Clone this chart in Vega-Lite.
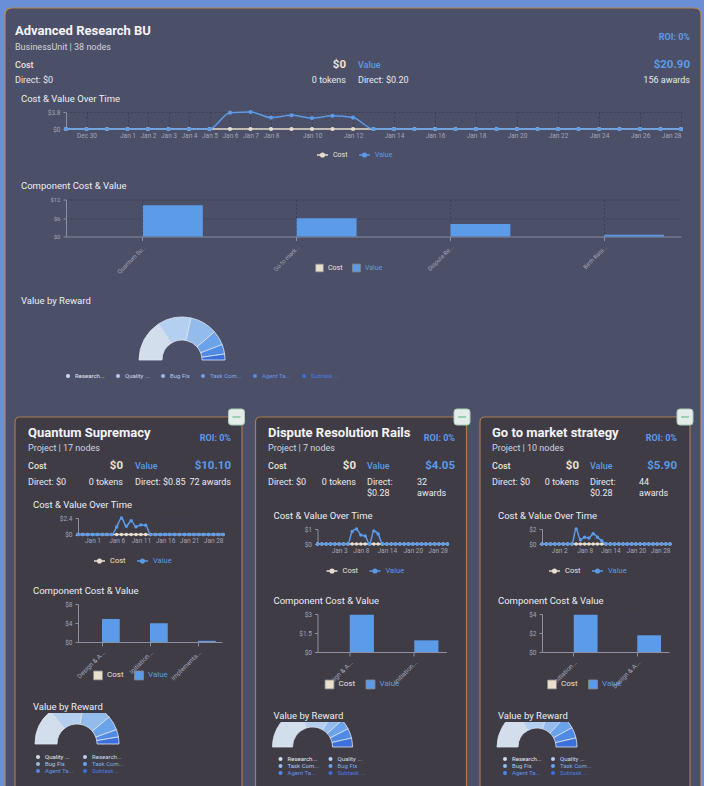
{
"$schema": "https://vega.github.io/schema/vega-lite/v6.json",
"background": "#6a8fd6",
"padding": {"left": 2, "top": 5, "right": 0, "bottom": 0},
"config": {
  "font": "Roboto",
  "view": {"stroke": null},
  "title": {"anchor": "start", "frame": "group", "fontSize": 9.5, "fontWeight": "normal", "color": "#eceef4", "offset": 6, "font": "Roboto"},
  "axis": {"labelFont": "Roboto", "labelFontSize": 6.5, "labelColor": "#a4a6b7", "domainColor": "#8d90a2", "tickColor": "#8d90a2", "gridColor": "#383a4f", "gridDash": [2, 2], "gridWidth": 0.8, "labelOverlap": false, "labelPadding": 3, "minExtent": 0},
  "legend": {"labelFont": "Roboto", "labelColor": "#e6e6ee", "labelFontSize": 7.5},
  "text": {"font": "Roboto"}
},
"datasets": {
  "headers": [
    {"unit": "BU", "role": "title", "col": 1, "line": 1, "text": "Advanced Research BU"},
    {"unit": "BU", "role": "roi", "col": 4, "line": 2, "text": "ROI: 0%"},
    {"unit": "BU", "role": "sub", "col": 1, "line": 3, "text": "BusinessUnit | 38 nodes"},
    {"unit": "BU", "role": "label", "col": 1, "line": 4, "text": "Cost", "tone": "cost"},
    {"unit": "BU", "role": "amount", "col": 2, "line": 4, "text": "$0", "tone": "cost"},
    {"unit": "BU", "role": "label", "col": 3, "line": 4, "text": "Value", "tone": "value"},
    {"unit": "BU", "role": "amount", "col": 4, "line": 4, "text": "$20.90", "tone": "value"},
    {"unit": "BU", "role": "detail", "col": 1, "line": 5, "text": "Direct: $0"},
    {"unit": "BU", "role": "detail", "col": 2, "line": 5, "text": "0 tokens"},
    {"unit": "BU", "role": "detail", "col": 3, "line": 5, "text": "Direct: $0.20"},
    {"unit": "BU", "role": "detail", "col": 4, "line": 5, "text": "156 awards"},
    {"unit": "QS", "role": "title", "col": 1, "line": 1, "text": "Quantum Supremacy"},
    {"unit": "QS", "role": "roi", "col": 4, "line": 2, "text": "ROI: 0%"},
    {"unit": "QS", "role": "sub", "col": 1, "line": 3, "text": "Project | 17 nodes"},
    {"unit": "QS", "role": "label", "col": 1, "line": 4, "text": "Cost", "tone": "cost"},
    {"unit": "QS", "role": "amount", "col": 2, "line": 4, "text": "$0", "tone": "cost"},
    {"unit": "QS", "role": "label", "col": 3, "line": 4, "text": "Value", "tone": "value"},
    {"unit": "QS", "role": "amount", "col": 4, "line": 4, "text": "$10.10", "tone": "value"},
    {"unit": "QS", "role": "detail", "col": 1, "line": 5, "text": "Direct: $0"},
    {"unit": "QS", "role": "detail", "col": 2, "line": 5, "text": "0 tokens"},
    {"unit": "QS", "role": "detail", "col": 3, "line": 5, "text": "Direct: $0.85"},
    {"unit": "QS", "role": "detail", "col": 4, "line": 5, "text": "72 awards"},
    {"unit": "DR", "role": "title", "col": 1, "line": 1, "text": "Dispute Resolution Rails"},
    {"unit": "DR", "role": "roi", "col": 4, "line": 2, "text": "ROI: 0%"},
    {"unit": "DR", "role": "sub", "col": 1, "line": 3, "text": "Project | 7 nodes"},
    {"unit": "DR", "role": "label", "col": 1, "line": 4, "text": "Cost", "tone": "cost"},
    {"unit": "DR", "role": "amount", "col": 2, "line": 4, "text": "$0", "tone": "cost"},
    {"unit": "DR", "role": "label", "col": 3, "line": 4, "text": "Value", "tone": "value"},
    {"unit": "DR", "role": "amount", "col": 4, "line": 4, "text": "$4.05", "tone": "value"},
    {"unit": "DR", "role": "detail", "col": 1, "line": 5, "text": "Direct: $0"},
    {"unit": "DR", "role": "detail", "col": 2, "line": 5, "text": "0 tokens"},
    {"unit": "DR", "role": "detail", "col": 3, "line": 5, "text": "Direct:"},
    {"unit": "DR", "role": "detail", "col": 3, "line": 6, "text": "$0.28"},
    {"unit": "DR", "role": "detail", "col": 5, "line": 5, "text": "32"},
    {"unit": "DR", "role": "detail", "col": 5, "line": 6, "text": "awards"},
    {"unit": "GM", "role": "title", "col": 1, "line": 1, "text": "Go to market strategy"},
    {"unit": "GM", "role": "roi", "col": 4, "line": 2, "text": "ROI: 0%"},
    {"unit": "GM", "role": "sub", "col": 1, "line": 3, "text": "Project | 10 nodes"},
    {"unit": "GM", "role": "label", "col": 1, "line": 4, "text": "Cost", "tone": "cost"},
    {"unit": "GM", "role": "amount", "col": 2, "line": 4, "text": "$0", "tone": "cost"},
    {"unit": "GM", "role": "label", "col": 3, "line": 4, "text": "Value", "tone": "value"},
    {"unit": "GM", "role": "amount", "col": 4, "line": 4, "text": "$5.90", "tone": "value"},
    {"unit": "GM", "role": "detail", "col": 1, "line": 5, "text": "Direct: $0"},
    {"unit": "GM", "role": "detail", "col": 2, "line": 5, "text": "0 tokens"},
    {"unit": "GM", "role": "detail", "col": 3, "line": 5, "text": "Direct:"},
    {"unit": "GM", "role": "detail", "col": 3, "line": 6, "text": "$0.28"},
    {"unit": "GM", "role": "detail", "col": 5, "line": 5, "text": "44"},
    {"unit": "GM", "role": "detail", "col": 5, "line": 6, "text": "awards"}
  ],
  "timeline": [
    {"date": "2024-12-29T00:00:00", "cost": 0, "bu": 0, "qs": 0, "dr": 0, "gm": 0},
    {"date": "2024-12-30T00:00:00", "cost": 0, "bu": 0, "qs": 0, "dr": 0, "gm": 0},
    {"date": "2024-12-31T00:00:00", "cost": 0, "bu": 0, "qs": 0, "dr": 0, "gm": 0},
    {"date": "2025-01-01T00:00:00", "cost": 0, "bu": 0, "qs": 0, "dr": 0, "gm": 0},
    {"date": "2025-01-02T00:00:00", "cost": 0, "bu": 0, "qs": 0, "dr": 0, "gm": 0},
    {"date": "2025-01-03T00:00:00", "cost": 0, "bu": 0, "qs": 0, "dr": 0, "gm": 0},
    {"date": "2025-01-04T00:00:00", "cost": 0, "bu": 0, "qs": 0, "dr": 0, "gm": 0},
    {"date": "2025-01-05T00:00:00", "cost": 0, "bu": 0, "qs": 0, "dr": 0, "gm": 0},
    {"date": "2025-01-06T00:00:00", "cost": 0, "bu": 3.65, "qs": 1.1, "dr": 0.83, "gm": 2.0},
    {"date": "2025-01-07T00:00:00", "cost": 0, "bu": 3.8, "qs": 2.4, "dr": 1.0, "gm": 0.57},
    {"date": "2025-01-08T00:00:00", "cost": 0, "bu": 2.55, "qs": 1.2, "dr": 0.6, "gm": 0.9},
    {"date": "2025-01-09T00:00:00", "cost": 0, "bu": 3.05, "qs": 2.0, "dr": 0.54, "gm": 0.8},
    {"date": "2025-01-10T00:00:00", "cost": 0, "bu": 2.45, "qs": 1.13, "dr": 0, "gm": 1.37},
    {"date": "2025-01-11T00:00:00", "cost": 0, "bu": 2.95, "qs": 1.4, "dr": 0.87, "gm": 0.9},
    {"date": "2025-01-12T00:00:00", "cost": 0, "bu": 2.55, "qs": 1.36, "dr": 0.67, "gm": 0.44},
    {"date": "2025-01-13T00:00:00", "cost": 0, "bu": 0, "qs": 0, "dr": 0, "gm": 0},
    {"date": "2025-01-14T00:00:00", "cost": 0, "bu": 0, "qs": 0, "dr": 0, "gm": 0},
    {"date": "2025-01-15T00:00:00", "cost": 0, "bu": 0, "qs": 0, "dr": 0, "gm": 0},
    {"date": "2025-01-16T00:00:00", "cost": 0, "bu": 0, "qs": 0, "dr": 0, "gm": 0},
    {"date": "2025-01-17T00:00:00", "cost": 0, "bu": 0, "qs": 0, "dr": 0, "gm": 0},
    {"date": "2025-01-18T00:00:00", "cost": 0, "bu": 0, "qs": 0, "dr": 0, "gm": 0},
    {"date": "2025-01-19T00:00:00", "cost": 0, "bu": 0, "qs": 0, "dr": 0, "gm": 0},
    {"date": "2025-01-20T00:00:00", "cost": 0, "bu": 0, "qs": 0, "dr": 0, "gm": 0},
    {"date": "2025-01-21T00:00:00", "cost": 0, "bu": 0, "qs": 0, "dr": 0, "gm": 0},
    {"date": "2025-01-22T00:00:00", "cost": 0, "bu": 0, "qs": 0, "dr": 0, "gm": 0},
    {"date": "2025-01-23T00:00:00", "cost": 0, "bu": 0, "qs": 0, "dr": 0, "gm": 0},
    {"date": "2025-01-24T00:00:00", "cost": 0, "bu": 0, "qs": 0, "dr": 0, "gm": 0},
    {"date": "2025-01-25T00:00:00", "cost": 0, "bu": 0, "qs": 0, "dr": 0, "gm": 0},
    {"date": "2025-01-26T00:00:00", "cost": 0, "bu": 0, "qs": 0, "dr": 0, "gm": 0},
    {"date": "2025-01-27T00:00:00", "cost": 0, "bu": 0, "qs": 0, "dr": 0, "gm": 0},
    {"date": "2025-01-28T00:00:00", "cost": 0, "bu": 0, "qs": 0, "dr": 0, "gm": 0}
  ],
  "components": [
    {"unit": "BU", "component": "Quantum Supremacy", "Cost": 0, "Value": 10.1},
    {"unit": "BU", "component": "Go to market strategy", "Cost": 0, "Value": 5.9},
    {"unit": "BU", "component": "Dispute Resolution Rails", "Cost": 0, "Value": 4.05},
    {"unit": "BU", "component": "Birth Rate Research", "Cost": 0, "Value": 0.6},
    {"unit": "QS", "component": "Design & Architecture", "Cost": 0, "Value": 4.85},
    {"unit": "QS", "component": "Initiation & Planning", "Cost": 0, "Value": 3.95},
    {"unit": "QS", "component": "Implementation", "Cost": 0, "Value": 0.25},
    {"unit": "DR", "component": "Design & Architecture", "Cost": 0, "Value": 2.94},
    {"unit": "DR", "component": "Initiation & Planning", "Cost": 0, "Value": 0.92},
    {"unit": "GM", "component": "Initiation & Planning", "Cost": 0, "Value": 3.93},
    {"unit": "GM", "component": "Design & Architecture", "Cost": 0, "Value": 1.76}
  ],
  "rewards": [
    {"unit": "BU", "reward": "Research Output", "value": 6.62},
    {"unit": "BU", "reward": "Quality Review", "value": 5.23},
    {"unit": "BU", "reward": "Bug Fix", "value": 4.3},
    {"unit": "BU", "reward": "Task Completion", "value": 2.32},
    {"unit": "BU", "reward": "Agent Task", "value": 1.51},
    {"unit": "BU", "reward": "Subtask Work", "value": 0.93},
    {"unit": "QS", "reward": "Quality Review", "value": 2.86},
    {"unit": "QS", "reward": "Research Output", "value": 2.69},
    {"unit": "QS", "reward": "Bug Fix", "value": 2.3},
    {"unit": "QS", "reward": "Task Completion", "value": 1.12},
    {"unit": "QS", "reward": "Agent Task", "value": 0.58},
    {"unit": "QS", "reward": "Subtask Work", "value": 0.54},
    {"unit": "DR", "reward": "Research Output", "value": 1.62},
    {"unit": "DR", "reward": "Quality Review", "value": 1.1},
    {"unit": "DR", "reward": "Task Completion", "value": 0.38},
    {"unit": "DR", "reward": "Bug Fix", "value": 0.34},
    {"unit": "DR", "reward": "Agent Task", "value": 0.32},
    {"unit": "DR", "reward": "Subtask Work", "value": 0.29},
    {"unit": "GM", "reward": "Research Output", "value": 2.0},
    {"unit": "GM", "reward": "Quality Review", "value": 1.51},
    {"unit": "GM", "reward": "Bug Fix", "value": 0.85},
    {"unit": "GM", "reward": "Task Completion", "value": 0.59},
    {"unit": "GM", "reward": "Agent Task", "value": 0.52},
    {"unit": "GM", "reward": "Subtask Work", "value": 0.43}
  ]
},
"resolve": {"scale": {"color": "independent", "xOffset": "independent"}, "legend": {"color": "independent"}},
"bounds": "flush",
"spacing": 9,
"hconcat": [
  {
  "width": 1, "height": 1,
  "layer": [
    {"data": {"values": [{"panel": "business unit"}]}, "mark": {"type": "point", "shape": "M0.065,-0.015H6.885Q6.955,-0.015 6.955,0.055V8.0H-0.005V0.055Q-0.005,-0.015 0.065,-0.015Z", "size": 40000, "filled": true, "fill": "#4c4f68", "stroke": "#b9874f", "strokeWidth": 1.2, "opacity": 1}},
    {"data": {"values": [{"panel": "project cards"}]}, "mark": {"type": "point", "shape": "M0.145,4.075H2.315Q2.365,4.075 2.365,4.125V8.0H0.095V4.125Q0.095,4.075 0.145,4.075ZM2.55,4.075H4.56Q4.61,4.075 4.61,4.125V8.0H2.50V4.125Q2.50,4.075 2.55,4.075ZM4.795,4.075H6.795Q6.845,4.075 6.845,4.125V8.0H4.745V4.125Q4.745,4.075 4.795,4.075Z", "size": 40000, "filled": true, "fill": "#3f3c46", "stroke": "#a97a4c", "strokeWidth": 1.2, "opacity": 1}},
    {"data": {"values": [{"panel": "collapse buttons"}]}, "mark": {"type": "point", "shape": "M2.26,3.995H2.36Q2.39,3.995 2.39,4.025V4.125Q2.39,4.155 2.36,4.155H2.26Q2.23,4.155 2.23,4.125V4.025Q2.23,3.995 2.26,3.995ZM4.515,3.995H4.615Q4.645,3.995 4.645,4.025V4.125Q4.645,4.155 4.615,4.155H4.515Q4.485,4.155 4.485,4.125V4.025Q4.485,3.995 4.515,3.995ZM6.745,3.995H6.845Q6.875,3.995 6.875,4.025V4.125Q6.875,4.155 6.845,4.155H6.745Q6.715,4.155 6.715,4.125V4.025Q6.715,3.995 6.745,3.995Z", "size": 40000, "filled": true, "fill": "#e3ece8", "stroke": "#a9cdb8", "strokeWidth": 1, "opacity": 1}},
    {"data": {"values": [{"panel": "collapse icons"}]}, "mark": {"type": "point", "shape": "M2.27,4.075H2.35M4.525,4.075H4.605M6.755,4.075H6.835", "size": 40000, "filled": false, "stroke": "#86c59f", "strokeWidth": 1.5, "opacity": 1}}
  ]
  },
  {
  "resolve": {"scale": {"color": "independent", "xOffset": "independent"}, "legend": {"color": "independent"}},
  "bounds": "full",
  "spacing": 6,
  "vconcat": [
    {
    "resolve": {"scale": {"color": "independent", "xOffset": "independent"}, "legend": {"color": "independent"}},
    "spacing": 20.5,
    "vconcat": [
      {
      "resolve": {"scale": {"color": "independent", "xOffset": "independent"}, "legend": {"color": "independent"}},
      "spacing": 8,
      "vconcat": [
        {
        "width": 675, "height": 70,
        "data": {"name": "headers"},
        "transform": [{"filter": "datum.unit == 'BU'"}],
        "encoding": {
          "x": {"field": "col", "type": "quantitative", "scale": {"domain": [1, 2, 3, 4, 5], "range": [0, 331, 343, 675, 630], "nice": false, "zero": false}, "axis": null},
          "y": {"field": "line", "type": "quantitative", "scale": {"domain": [1, 2, 3, 4, 5, 6], "range": [22, 28, 38, 56, 71, 82], "nice": false, "zero": false}, "axis": null},
          "text": {"field": "text", "type": "nominal"}
        },
        "layer": [
          {"transform": [{"filter": "datum.role == 'title'"}], "mark": {"type": "text", "align": "left", "baseline": "middle", "fontSize": 13, "fontWeight": "bold", "color": "#f3f3f7"}},
          {"transform": [{"filter": "datum.role == 'sub'"}], "mark": {"type": "text", "align": "left", "baseline": "middle", "fontSize": 9, "color": "#d3d5df"}},
          {"transform": [{"filter": "datum.role == 'roi'"}], "mark": {"type": "text", "align": "right", "baseline": "middle", "fontSize": 9, "fontWeight": "bold", "color": "#5b9be8"}},
          {"transform": [{"filter": "datum.role == 'label'"}], "mark": {"type": "text", "align": "left", "baseline": "middle", "fontSize": 9, "fontWeight": 500}, "encoding": {"color": {"field": "tone", "type": "nominal", "scale": {"domain": ["cost", "value"], "range": ["#ece3d4", "#5b9be8"]}, "legend": null}}},
          {"transform": [{"filter": "datum.role == 'amount'"}], "mark": {"type": "text", "align": "right", "baseline": "middle", "fontSize": 11.5, "fontWeight": "bold"}, "encoding": {"color": {"field": "tone", "type": "nominal", "scale": {"domain": ["cost", "value"], "range": ["#ece3d4", "#5b9be8"]}, "legend": null}}},
          {"transform": [{"filter": "datum.role == 'detail' && datum.col % 2 == 1"}], "mark": {"type": "text", "align": "left", "baseline": "middle", "fontSize": 9, "color": "#e9e9ef"}},
          {"transform": [{"filter": "datum.role == 'detail' && datum.col % 2 == 0"}], "mark": {"type": "text", "align": "right", "baseline": "middle", "fontSize": 9, "color": "#e9e9ef"}}
        ]
        },
        {
        "width": 666, "height": 17,
        "title": {"text": "Cost & Value Over Time", "dx": 6},
        "data": {"name": "timeline"},
        "encoding": {
          "x": {"field": "date", "type": "temporal", "scale": {"nice": false, "padding": 0, "range": [51, 666]}, "axis": {"title": null, "format": "%b %-d", "ticks": false, "domain": false, "grid": true, "values": [{"year": 2024, "month": 12, "date": 30}, {"year": 2025, "month": 1, "date": 1}, {"year": 2025, "month": 1, "date": 2}, {"year": 2025, "month": 1, "date": 3}, {"year": 2025, "month": 1, "date": 4}, {"year": 2025, "month": 1, "date": 5}, {"year": 2025, "month": 1, "date": 6}, {"year": 2025, "month": 1, "date": 7}, {"year": 2025, "month": 1, "date": 8}, {"year": 2025, "month": 1, "date": 10}, {"year": 2025, "month": 1, "date": 12}, {"year": 2025, "month": 1, "date": 14}, {"year": 2025, "month": 1, "date": 16}, {"year": 2025, "month": 1, "date": 18}, {"year": 2025, "month": 1, "date": 20}, {"year": 2025, "month": 1, "date": 22}, {"year": 2025, "month": 1, "date": 24}, {"year": 2025, "month": 1, "date": 26}, {"year": 2025, "month": 1, "date": 28}]}}
        },
        "layer": [
          {"mark": {"type": "line", "interpolate": "monotone", "strokeWidth": 1.5, "point": {"filled": true, "size": 18}},
           "encoding": {
             "y": {"field": "cost", "type": "quantitative", "scale": {"domain": [0, 3.8], "nice": false}, "axis": {"title": null, "values": [0, 3.8], "labelExpr": "'$' + datum.value", "offset": -51, "tickSize": 3, "grid": true}},
             "color": {"datum": "Cost", "type": "nominal", "scale": {"domain": ["Cost", "Value"], "range": ["#e9dfcf", "#5b9be8"]}, "legend": {"title": null, "orient": "none", "legendX": 301, "legendY": 36, "direction": "horizontal", "symbolType": "M-1,0H-0.35M0.35,0H1M0.35,0A0.35,0.35,0,1,1,-0.35,0A0.35,0.35,0,1,1,0.35,0", "symbolSize": 120, "symbolStrokeWidth": 1.3, "labelFontSize": 7, "columnPadding": 8, "labelColor": {"expr": "datum.value == 'Value' ? '#5b9be8' : '#ece3d4'"}}}
           }},
          {"mark": {"type": "line", "interpolate": "monotone", "strokeWidth": 1.5, "point": {"filled": true, "size": 18}},
           "encoding": {
             "y": {"field": "bu", "type": "quantitative", "axis": {"title": null, "values": [0, 3.8], "labelExpr": "'$' + datum.value", "offset": -51, "tickSize": 3, "grid": true}},
             "color": {"datum": "Value", "type": "nominal"}
           }}
        ]
        }
      ]
      },
      {
      "width": 666, "height": 37,
      "title": {"text": "Component Cost & Value", "dx": 6},
      "data": {"name": "components"},
      "transform": [{"filter": "datum.unit == 'BU'"}, {"fold": ["Cost", "Value"], "as": ["series", "amount"]}],
      "mark": {"type": "bar"},
      "encoding": {
        "x": {"field": "component", "type": "nominal", "sort": null, "scale": {"range": [51, 666], "paddingInner": 0.22, "paddingOuter": 0.11}, "axis": {"title": null, "labelAngle": -45, "labelExpr": "length(datum.label) > 10 ? slice(datum.label, 0, 10) + '...' : datum.label", "tickSize": 4, "grid": true, "labelFontSize": 6}},
        "xOffset": {"field": "series", "type": "nominal", "sort": ["Cost", "Value"]},
        "y": {"field": "amount", "type": "quantitative", "scale": {"domain": [0, 12], "nice": false}, "axis": {"title": null, "values": [0, 6, 12], "labelExpr": "'$' + datum.value", "offset": -51, "tickSize": 3, "grid": true, "labelFontSize": 6}},
        "color": {"field": "series", "type": "nominal", "scale": {"domain": ["Cost", "Value"], "range": ["#e9dfcf", "#5b9be8"]}, "legend": {"title": null, "orient": "none", "legendX": 300, "legendY": 64, "direction": "horizontal", "symbolType": "square", "symbolSize": 60, "symbolStrokeColor": "#8a8a8a", "symbolStrokeWidth": 0.8, "labelFontSize": 7, "columnPadding": 8, "labelColor": {"expr": "datum.value == 'Value' ? '#5b9be8' : '#ece3d4'"}}}
      }
      },
      {
      "width": 334, "height": 90,
      "title": {"text": "Value by Reward", "dx": 6, "offset": 10},
      "data": {"name": "rewards"},
      "transform": [{"filter": "datum.unit == 'BU'"}],
      "mark": {"type": "arc", "outerRadius": 43, "innerRadius": 20, "stroke": "#dfe6f2", "strokeWidth": 0.8},
      "encoding": {
        "theta": {"field": "value", "type": "quantitative", "stack": true, "scale": {"range": [-1.5708, 1.5708]}},
        "order": {"field": "value", "sort": "descending"},
        "color": {"field": "reward", "type": "nominal", "scale": {"domain": ["Research Output", "Quality Review", "Bug Fix", "Task Completion", "Agent Task", "Subtask Work"], "range": ["#d3deec", "#b5cff0", "#93bcec", "#6aa3ea", "#4f8be5", "#3b6fdc"]}, "legend": {"title": null, "orient": "none", "legendX": 50, "legendY": 58, "direction": "horizontal", "columns": 6, "symbolType": "circle", "symbolSize": 16, "symbolStrokeWidth": 0, "labelFontSize": 6, "columnPadding": 10, "labelExpr": "length(datum.label) > 8 ? slice(datum.label, 0, 8) + '...' : datum.label", "labelColor": {"expr": "['#e4e9f2','#cdddf2','#a9c8f0','#7aaeee','#5d94e8','#4a7be0'][datum.index]"}}}
      }
      }
    ]
    },
    {
    "resolve": {"scale": {"color": "independent", "xOffset": "independent"}, "legend": {"color": "independent"}},
    "spacing": 13.5,
    "hconcat": [
      {
      "resolve": {"scale": {"color": "independent", "xOffset": "independent"}, "legend": {"color": "independent"}},
      "spacing": 8,
      "vconcat": [
        {
        "width": 227, "height": 80,
        "data": {"name": "headers"},
        "transform": [{"filter": "datum.unit == 'QS'"}],
        "encoding": {
          "x": {"field": "col", "type": "quantitative", "scale": {"domain": [1, 2, 3, 4, 5], "range": [13, 108, 120, 216, 176], "nice": false, "zero": false}, "axis": null},
          "y": {"field": "line", "type": "quantitative", "scale": {"domain": [1, 2, 3, 4, 5, 6], "range": [22, 27, 37, 55, 71, 82], "nice": false, "zero": false}, "axis": null},
          "text": {"field": "text", "type": "nominal"}
        },
        "layer": [
          {"transform": [{"filter": "datum.role == 'title'"}], "mark": {"type": "text", "align": "left", "baseline": "middle", "fontSize": 13, "fontWeight": "bold", "color": "#f3f3f7"}},
          {"transform": [{"filter": "datum.role == 'sub'"}], "mark": {"type": "text", "align": "left", "baseline": "middle", "fontSize": 9, "color": "#d3d5df"}},
          {"transform": [{"filter": "datum.role == 'roi'"}], "mark": {"type": "text", "align": "right", "baseline": "middle", "fontSize": 9, "fontWeight": "bold", "color": "#5b9be8"}},
          {"transform": [{"filter": "datum.role == 'label'"}], "mark": {"type": "text", "align": "left", "baseline": "middle", "fontSize": 9, "fontWeight": 500}, "encoding": {"color": {"field": "tone", "type": "nominal", "scale": {"domain": ["cost", "value"], "range": ["#ece3d4", "#5b9be8"]}, "legend": null}}},
          {"transform": [{"filter": "datum.role == 'amount'"}], "mark": {"type": "text", "align": "right", "baseline": "middle", "fontSize": 11.5, "fontWeight": "bold"}, "encoding": {"color": {"field": "tone", "type": "nominal", "scale": {"domain": ["cost", "value"], "range": ["#ece3d4", "#5b9be8"]}, "legend": null}}},
          {"transform": [{"filter": "datum.role == 'detail' && datum.col % 2 == 1"}], "mark": {"type": "text", "align": "left", "baseline": "middle", "fontSize": 9, "color": "#e9e9ef"}},
          {"transform": [{"filter": "datum.role == 'detail' && datum.col % 2 == 0"}], "mark": {"type": "text", "align": "right", "baseline": "middle", "fontSize": 9, "color": "#e9e9ef"}}
        ]
        },
        {
        "resolve": {"scale": {"color": "independent", "xOffset": "independent"}, "legend": {"color": "independent"}},
        "spacing": 19,
        "vconcat": [
          {
          "width": 208, "height": 16.5,
          "title": {"text": "Cost & Value Over Time", "dx": 18},
          "data": {"name": "timeline"},
          "encoding": {
            "x": {"field": "date", "type": "temporal", "scale": {"nice": false, "padding": 0, "range": [63, 208]}, "axis": {"title": null, "format": "%b %-d", "ticks": false, "domain": false, "grid": true, "values": [{"year": 2025, "month": 1, "date": 1}, {"year": 2025, "month": 1, "date": 6}, {"year": 2025, "month": 1, "date": 11}, {"year": 2025, "month": 1, "date": 16}, {"year": 2025, "month": 1, "date": 21}, {"year": 2025, "month": 1, "date": 28}]}}
          },
          "layer": [
            {"mark": {"type": "line", "interpolate": "monotone", "strokeWidth": 1.5, "point": {"filled": true, "size": 12}},
             "encoding": {
               "y": {"field": "cost", "type": "quantitative", "scale": {"domain": [0, 2.4], "nice": false}, "axis": {"title": null, "values": [0, 2.4], "labelExpr": "'$' + datum.value", "offset": -63, "tickSize": 3, "grid": true}},
               "color": {"datum": "Cost", "type": "nominal", "scale": {"domain": ["Cost", "Value"], "range": ["#e9dfcf", "#5b9be8"]}, "legend": {"title": null, "orient": "none", "legendX": 78, "legendY": 36, "direction": "horizontal", "symbolType": "M-1,0H-0.35M0.35,0H1M0.35,0A0.35,0.35,0,1,1,-0.35,0A0.35,0.35,0,1,1,0.35,0", "symbolSize": 120, "symbolStrokeWidth": 1.3, "labelFontSize": 7.5, "columnPadding": 8, "labelColor": {"expr": "datum.value == 'Value' ? '#5b9be8' : '#ece3d4'"}}}
             }},
            {"mark": {"type": "line", "interpolate": "monotone", "strokeWidth": 1.5, "point": {"filled": true, "size": 12}},
             "encoding": {
               "y": {"field": "qs", "type": "quantitative", "axis": {"title": null, "values": [0, 2.4], "labelExpr": "'$' + datum.value", "offset": -63, "tickSize": 3, "grid": true}},
               "color": {"datum": "Value", "type": "nominal"}
             }}
          ]
          },
          {
          "width": 207, "height": 38,
          "title": {"text": "Component Cost & Value", "dx": 18},
          "data": {"name": "components"},
          "transform": [{"filter": "datum.unit == 'QS'"}, {"fold": ["Cost", "Value"], "as": ["series", "amount"]}],
          "mark": {"type": "bar"},
          "encoding": {
            "x": {"field": "component", "type": "nominal", "sort": null, "scale": {"range": [63, 207], "paddingInner": 0.26, "paddingOuter": 0.13}, "axis": {"title": null, "labelAngle": -45, "labelExpr": "length(datum.label) > 10 ? slice(datum.label, 0, 10) + '...' : datum.label", "tickSize": 4, "grid": true, "labelFontSize": 6.5}},
            "xOffset": {"field": "series", "type": "nominal", "sort": ["Cost", "Value"]},
            "y": {"field": "amount", "type": "quantitative", "scale": {"domain": [0, 8], "nice": false}, "axis": {"title": null, "values": [0, 4, 8], "labelExpr": "'$' + datum.value", "offset": -63, "tickSize": 3, "grid": true}},
            "color": {"field": "series", "type": "nominal", "scale": {"domain": ["Cost", "Value"], "range": ["#e9dfcf", "#5b9be8"]}, "legend": {"title": null, "orient": "none", "legendX": 78, "legendY": 66, "direction": "horizontal", "symbolType": "square", "symbolSize": 80, "symbolStrokeColor": "#8a8a8a", "symbolStrokeWidth": 0.8, "labelFontSize": 8, "columnPadding": 8, "labelColor": {"expr": "datum.value == 'Value' ? '#5b9be8' : '#ece3d4'"}}}
          }
          },
          {
          "width": 124, "height": 62,
          "title": {"text": "Value by Reward", "dx": 18, "offset": 2},
          "data": {"name": "rewards"},
          "transform": [{"filter": "datum.unit == 'QS'"}],
          "mark": {"type": "arc", "outerRadius": 42, "innerRadius": 20, "stroke": "#dfe6f2", "strokeWidth": 0.8, "clip": true},
          "encoding": {
            "theta": {"field": "value", "type": "quantitative", "stack": true, "scale": {"range": [-1.5708, 1.5708]}},
            "order": {"field": "value", "sort": "descending"},
            "color": {"field": "reward", "type": "nominal", "scale": {"domain": ["Quality Review", "Research Output", "Bug Fix", "Task Completion", "Agent Task", "Subtask Work"], "range": ["#d3deec", "#b5cff0", "#93bcec", "#6aa3ea", "#4f8be5", "#3b6fdc"]}, "legend": {"title": null, "orient": "none", "legendX": 20, "legendY": 41, "direction": "horizontal", "columns": 2, "symbolType": "circle", "symbolSize": 16, "symbolStrokeWidth": 0, "labelFontSize": 6, "columnPadding": 8, "rowPadding": 1, "labelExpr": "length(datum.label) > 8 ? slice(datum.label, 0, 8) + '...' : datum.label", "labelColor": {"expr": "['#e4e9f2','#cdddf2','#a9c8f0','#7aaeee','#5d94e8','#4a7be0'][datum.index]"}}}
          }
          }
        ]
        }
      ]
      },
      {
      "resolve": {"scale": {"color": "independent", "xOffset": "independent"}, "legend": {"color": "independent"}},
      "spacing": 9,
      "vconcat": [
        {
        "width": 211, "height": 90,
        "data": {"name": "headers"},
        "transform": [{"filter": "datum.unit == 'DR'"}],
        "encoding": {
          "x": {"field": "col", "type": "quantitative", "scale": {"domain": [1, 2, 3, 4, 5], "range": [12.5, 100.5, 111.5, 199.5, 161.5], "nice": false, "zero": false}, "axis": null},
          "y": {"field": "line", "type": "quantitative", "scale": {"domain": [1, 2, 3, 4, 5, 6], "range": [22, 27, 37, 55, 71, 82], "nice": false, "zero": false}, "axis": null},
          "text": {"field": "text", "type": "nominal"}
        },
        "layer": [
          {"transform": [{"filter": "datum.role == 'title'"}], "mark": {"type": "text", "align": "left", "baseline": "middle", "fontSize": 13, "fontWeight": "bold", "color": "#f3f3f7"}},
          {"transform": [{"filter": "datum.role == 'sub'"}], "mark": {"type": "text", "align": "left", "baseline": "middle", "fontSize": 9, "color": "#d3d5df"}},
          {"transform": [{"filter": "datum.role == 'roi'"}], "mark": {"type": "text", "align": "right", "baseline": "middle", "fontSize": 9, "fontWeight": "bold", "color": "#5b9be8"}},
          {"transform": [{"filter": "datum.role == 'label'"}], "mark": {"type": "text", "align": "left", "baseline": "middle", "fontSize": 9, "fontWeight": 500}, "encoding": {"color": {"field": "tone", "type": "nominal", "scale": {"domain": ["cost", "value"], "range": ["#ece3d4", "#5b9be8"]}, "legend": null}}},
          {"transform": [{"filter": "datum.role == 'amount'"}], "mark": {"type": "text", "align": "right", "baseline": "middle", "fontSize": 11.5, "fontWeight": "bold"}, "encoding": {"color": {"field": "tone", "type": "nominal", "scale": {"domain": ["cost", "value"], "range": ["#ece3d4", "#5b9be8"]}, "legend": null}}},
          {"transform": [{"filter": "datum.role == 'detail' && datum.col % 2 == 1"}], "mark": {"type": "text", "align": "left", "baseline": "middle", "fontSize": 9, "color": "#e9e9ef"}},
          {"transform": [{"filter": "datum.role == 'detail' && datum.col % 2 == 0"}], "mark": {"type": "text", "align": "right", "baseline": "middle", "fontSize": 9, "color": "#e9e9ef"}}
        ]
        },
        {
        "resolve": {"scale": {"color": "independent", "xOffset": "independent"}, "legend": {"color": "independent"}},
        "spacing": 19,
        "vconcat": [
          {
          "width": 192, "height": 15,
          "title": {"text": "Cost & Value Over Time", "dx": 18},
          "data": {"name": "timeline"},
          "encoding": {
            "x": {"field": "date", "type": "temporal", "scale": {"nice": false, "padding": 0, "range": [62, 192]}, "axis": {"title": null, "format": "%b %-d", "ticks": false, "domain": false, "grid": true, "values": [{"year": 2025, "month": 1, "date": 3}, {"year": 2025, "month": 1, "date": 8}, {"year": 2025, "month": 1, "date": 14}, {"year": 2025, "month": 1, "date": 20}, {"year": 2025, "month": 1, "date": 28}]}}
          },
          "layer": [
            {"mark": {"type": "line", "interpolate": "monotone", "strokeWidth": 1.5, "point": {"filled": true, "size": 12}},
             "encoding": {
               "y": {"field": "cost", "type": "quantitative", "scale": {"domain": [0, 1], "nice": false}, "axis": {"title": null, "values": [0, 1], "labelExpr": "'$' + datum.value", "offset": -62, "tickSize": 3, "grid": true}},
               "color": {"datum": "Cost", "type": "nominal", "scale": {"domain": ["Cost", "Value"], "range": ["#e9dfcf", "#5b9be8"]}, "legend": {"title": null, "orient": "none", "legendX": 70, "legendY": 35, "direction": "horizontal", "symbolType": "M-1,0H-0.35M0.35,0H1M0.35,0A0.35,0.35,0,1,1,-0.35,0A0.35,0.35,0,1,1,0.35,0", "symbolSize": 120, "symbolStrokeWidth": 1.3, "labelFontSize": 7.5, "columnPadding": 8, "labelColor": {"expr": "datum.value == 'Value' ? '#5b9be8' : '#ece3d4'"}}}
             }},
            {"mark": {"type": "line", "interpolate": "monotone", "strokeWidth": 1.5, "point": {"filled": true, "size": 12}},
             "encoding": {
               "y": {"field": "dr", "type": "quantitative", "axis": {"title": null, "values": [0, 1], "labelExpr": "'$' + datum.value", "offset": -62, "tickSize": 3, "grid": true}},
               "color": {"datum": "Value", "type": "nominal"}
             }}
          ]
          },
          {
          "width": 191, "height": 38,
          "title": {"text": "Component Cost & Value", "dx": 18},
          "data": {"name": "components"},
          "transform": [{"filter": "datum.unit == 'DR'"}, {"fold": ["Cost", "Value"], "as": ["series", "amount"]}],
          "mark": {"type": "bar"},
          "encoding": {
            "x": {"field": "component", "type": "nominal", "sort": null, "scale": {"range": [62, 191], "paddingInner": 0.25, "paddingOuter": 0.125}, "axis": {"title": null, "labelAngle": -45, "labelExpr": "length(datum.label) > 10 ? slice(datum.label, 0, 10) + '...' : datum.label", "tickSize": 4, "grid": true, "labelFontSize": 6.5}},
            "xOffset": {"field": "series", "type": "nominal", "sort": ["Cost", "Value"]},
            "y": {"field": "amount", "type": "quantitative", "scale": {"domain": [0, 3], "nice": false}, "axis": {"title": null, "values": [0, 1.5, 3], "labelExpr": "'$' + datum.value", "offset": -62, "tickSize": 3, "grid": true}},
            "color": {"field": "series", "type": "nominal", "scale": {"domain": ["Cost", "Value"], "range": ["#e9dfcf", "#5b9be8"]}, "legend": {"title": null, "orient": "none", "legendX": 69, "legendY": 65, "direction": "horizontal", "symbolType": "square", "symbolSize": 80, "symbolStrokeColor": "#8a8a8a", "symbolStrokeWidth": 0.8, "labelFontSize": 8, "columnPadding": 8, "labelColor": {"expr": "datum.value == 'Value' ? '#5b9be8' : '#ece3d4'"}}}
          }
          },
          {
          "width": 114, "height": 50,
          "title": {"text": "Value by Reward", "dx": 18, "offset": 2},
          "data": {"name": "rewards"},
          "transform": [{"filter": "datum.unit == 'DR'"}],
          "mark": {"type": "arc", "outerRadius": 40, "innerRadius": 20, "stroke": "#dfe6f2", "strokeWidth": 0.8, "clip": true},
          "encoding": {
            "theta": {"field": "value", "type": "quantitative", "stack": true, "scale": {"range": [-1.5708, 1.5708]}},
            "order": {"field": "value", "sort": "descending"},
            "color": {"field": "reward", "type": "nominal", "scale": {"domain": ["Research Output", "Quality Review", "Task Completion", "Bug Fix", "Agent Task", "Subtask Work"], "range": ["#d3deec", "#b5cff0", "#93bcec", "#6aa3ea", "#4f8be5", "#3b6fdc"]}, "legend": {"title": null, "orient": "none", "legendX": 22, "legendY": 34, "direction": "horizontal", "columns": 2, "symbolType": "circle", "symbolSize": 16, "symbolStrokeWidth": 0, "labelFontSize": 6, "columnPadding": 8, "rowPadding": 1, "labelExpr": "length(datum.label) > 8 ? slice(datum.label, 0, 8) + '...' : datum.label", "labelColor": {"expr": "['#e4e9f2','#cdddf2','#a9c8f0','#7aaeee','#5d94e8','#4a7be0'][datum.index]"}}}
          }
          }
        ]
        }
      ]
      },
      {
      "resolve": {"scale": {"color": "independent", "xOffset": "independent"}, "legend": {"color": "independent"}},
      "spacing": 9,
      "vconcat": [
        {
        "width": 210, "height": 90,
        "data": {"name": "headers"},
        "transform": [{"filter": "datum.unit == 'GM'"}],
        "encoding": {
          "x": {"field": "col", "type": "quantitative", "scale": {"domain": [1, 2, 3, 4, 5], "range": [12, 99, 110, 197, 159], "nice": false, "zero": false}, "axis": null},
          "y": {"field": "line", "type": "quantitative", "scale": {"domain": [1, 2, 3, 4, 5, 6], "range": [22, 27, 37, 55, 71, 82], "nice": false, "zero": false}, "axis": null},
          "text": {"field": "text", "type": "nominal"}
        },
        "layer": [
          {"transform": [{"filter": "datum.role == 'title'"}], "mark": {"type": "text", "align": "left", "baseline": "middle", "fontSize": 13, "fontWeight": "bold", "color": "#f3f3f7"}},
          {"transform": [{"filter": "datum.role == 'sub'"}], "mark": {"type": "text", "align": "left", "baseline": "middle", "fontSize": 9, "color": "#d3d5df"}},
          {"transform": [{"filter": "datum.role == 'roi'"}], "mark": {"type": "text", "align": "right", "baseline": "middle", "fontSize": 9, "fontWeight": "bold", "color": "#5b9be8"}},
          {"transform": [{"filter": "datum.role == 'label'"}], "mark": {"type": "text", "align": "left", "baseline": "middle", "fontSize": 9, "fontWeight": 500}, "encoding": {"color": {"field": "tone", "type": "nominal", "scale": {"domain": ["cost", "value"], "range": ["#ece3d4", "#5b9be8"]}, "legend": null}}},
          {"transform": [{"filter": "datum.role == 'amount'"}], "mark": {"type": "text", "align": "right", "baseline": "middle", "fontSize": 11.5, "fontWeight": "bold"}, "encoding": {"color": {"field": "tone", "type": "nominal", "scale": {"domain": ["cost", "value"], "range": ["#ece3d4", "#5b9be8"]}, "legend": null}}},
          {"transform": [{"filter": "datum.role == 'detail' && datum.col % 2 == 1"}], "mark": {"type": "text", "align": "left", "baseline": "middle", "fontSize": 9, "color": "#e9e9ef"}},
          {"transform": [{"filter": "datum.role == 'detail' && datum.col % 2 == 0"}], "mark": {"type": "text", "align": "right", "baseline": "middle", "fontSize": 9, "color": "#e9e9ef"}}
        ]
        },
        {
        "resolve": {"scale": {"color": "independent", "xOffset": "independent"}, "legend": {"color": "independent"}},
        "spacing": 19,
        "vconcat": [
          {
          "width": 190, "height": 15,
          "title": {"text": "Cost & Value Over Time", "dx": 18},
          "data": {"name": "timeline"},
          "encoding": {
            "x": {"field": "date", "type": "temporal", "scale": {"nice": false, "padding": 0, "range": [62, 190]}, "axis": {"title": null, "format": "%b %-d", "ticks": false, "domain": false, "grid": true, "values": [{"year": 2025, "month": 1, "date": 2}, {"year": 2025, "month": 1, "date": 8}, {"year": 2025, "month": 1, "date": 14}, {"year": 2025, "month": 1, "date": 20}, {"year": 2025, "month": 1, "date": 28}]}}
          },
          "layer": [
            {"mark": {"type": "line", "interpolate": "monotone", "strokeWidth": 1.5, "point": {"filled": true, "size": 12}},
             "encoding": {
               "y": {"field": "cost", "type": "quantitative", "scale": {"domain": [0, 2], "nice": false}, "axis": {"title": null, "values": [0, 2], "labelExpr": "'$' + datum.value", "offset": -62, "tickSize": 3, "grid": true}},
               "color": {"datum": "Cost", "type": "nominal", "scale": {"domain": ["Cost", "Value"], "range": ["#e9dfcf", "#5b9be8"]}, "legend": {"title": null, "orient": "none", "legendX": 68, "legendY": 35, "direction": "horizontal", "symbolType": "M-1,0H-0.35M0.35,0H1M0.35,0A0.35,0.35,0,1,1,-0.35,0A0.35,0.35,0,1,1,0.35,0", "symbolSize": 120, "symbolStrokeWidth": 1.3, "labelFontSize": 7.5, "columnPadding": 8, "labelColor": {"expr": "datum.value == 'Value' ? '#5b9be8' : '#ece3d4'"}}}
             }},
            {"mark": {"type": "line", "interpolate": "monotone", "strokeWidth": 1.5, "point": {"filled": true, "size": 12}},
             "encoding": {
               "y": {"field": "gm", "type": "quantitative", "axis": {"title": null, "values": [0, 2], "labelExpr": "'$' + datum.value", "offset": -62, "tickSize": 3, "grid": true}},
               "color": {"datum": "Value", "type": "nominal"}
             }}
          ]
          },
          {
          "width": 189, "height": 38,
          "title": {"text": "Component Cost & Value", "dx": 18},
          "data": {"name": "components"},
          "transform": [{"filter": "datum.unit == 'GM'"}, {"fold": ["Cost", "Value"], "as": ["series", "amount"]}],
          "mark": {"type": "bar"},
          "encoding": {
            "x": {"field": "component", "type": "nominal", "sort": null, "scale": {"range": [62, 189], "paddingInner": 0.25, "paddingOuter": 0.125}, "axis": {"title": null, "labelAngle": -45, "labelExpr": "length(datum.label) > 10 ? slice(datum.label, 0, 10) + '...' : datum.label", "tickSize": 4, "grid": true, "labelFontSize": 6.5}},
            "xOffset": {"field": "series", "type": "nominal", "sort": ["Cost", "Value"]},
            "y": {"field": "amount", "type": "quantitative", "scale": {"domain": [0, 4], "nice": false}, "axis": {"title": null, "values": [0, 2, 4], "labelExpr": "'$' + datum.value", "offset": -62, "tickSize": 3, "grid": true}},
            "color": {"field": "series", "type": "nominal", "scale": {"domain": ["Cost", "Value"], "range": ["#e9dfcf", "#5b9be8"]}, "legend": {"title": null, "orient": "none", "legendX": 67, "legendY": 65, "direction": "horizontal", "symbolType": "square", "symbolSize": 80, "symbolStrokeColor": "#8a8a8a", "symbolStrokeWidth": 0.8, "labelFontSize": 8, "columnPadding": 8, "labelColor": {"expr": "datum.value == 'Value' ? '#5b9be8' : '#ece3d4'"}}}
          }
          },
          {
          "width": 114, "height": 50,
          "title": {"text": "Value by Reward", "dx": 18, "offset": 2},
          "data": {"name": "rewards"},
          "transform": [{"filter": "datum.unit == 'GM'"}],
          "mark": {"type": "arc", "outerRadius": 40, "innerRadius": 19, "stroke": "#dfe6f2", "strokeWidth": 0.8, "clip": true},
          "encoding": {
            "theta": {"field": "value", "type": "quantitative", "stack": true, "scale": {"range": [-1.5708, 1.5708]}},
            "order": {"field": "value", "sort": "descending"},
            "color": {"field": "reward", "type": "nominal", "scale": {"domain": ["Research Output", "Quality Review", "Bug Fix", "Task Completion", "Agent Task", "Subtask Work"], "range": ["#d3deec", "#b5cff0", "#93bcec", "#6aa3ea", "#4f8be5", "#3b6fdc"]}, "legend": {"title": null, "orient": "none", "legendX": 22, "legendY": 34, "direction": "horizontal", "columns": 2, "symbolType": "circle", "symbolSize": 16, "symbolStrokeWidth": 0, "labelFontSize": 6, "columnPadding": 8, "rowPadding": 1, "labelExpr": "length(datum.label) > 8 ? slice(datum.label, 0, 8) + '...' : datum.label", "labelColor": {"expr": "['#e4e9f2','#cdddf2','#a9c8f0','#7aaeee','#5d94e8','#4a7be0'][datum.index]"}}}
          }
          }
        ]
        }
      ]
      }
    ]
    }
  ]
  }
]
}
